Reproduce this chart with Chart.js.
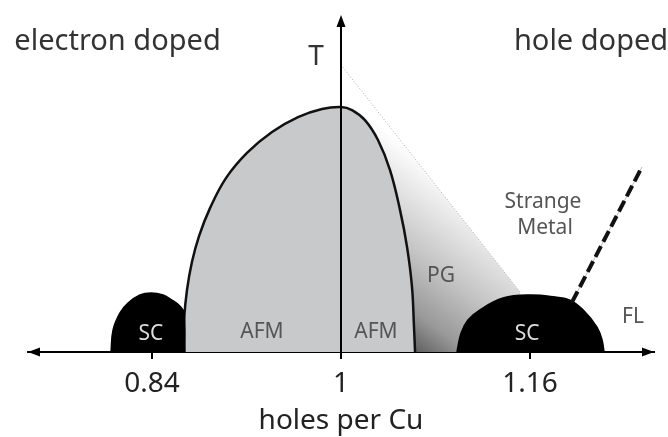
<!DOCTYPE html>
<html>
<head>
<meta charset="utf-8">
<script src="https://cdn.jsdelivr.net/npm/chart.js@4.4.1/dist/chart.umd.min.js"></script>
<style>
  html, body { margin: 0; padding: 0; background: #fff; }
  #wrap { width: 668px; height: 437px; }
</style>
</head>
<body>
<div id="wrap"><canvas id="phase"></canvas></div>
<script>
// doping axis (holes per Cu) and schematic temperature
var tickValues = [0.84, 1, 1.16];
var tickLabels = ["0.84", "1", "1.16"];

var afmX = [0.8662, 0.8671, 0.8696, 0.8738, 0.8798, 0.8891, 0.9026, 0.9204, 0.9416, 0.9636, 0.9839, 1.0,
            1.0093, 1.0203, 1.0313, 1.0415, 1.0500, 1.0559, 1.0601, 1.0618, 1.0627];
var afmT = [0, 9.5, 18.4, 26.7, 34.4, 42.7, 51.6, 59.1, 65.3, 69.7, 72.1, 72.7,
            71.8, 68.8, 62.9, 54.0, 42.1, 31.2, 19.3, 7.4, 0];

var scElecX = [0.8053, 0.8070, 0.8129, 0.8197, 0.8298, 0.8391, 0.8493, 0.8569, 0.8637, 0.8671, 0.8679];
var scElecT = [0, 6.5, 11.6, 14.5, 16.9, 17.5, 16.9, 15.4, 13.6, 11.6, 0];

var scHoleX = [1.0982, 1.1016, 1.1075, 1.1177, 1.1372, 1.1600, 1.1812, 1.1939, 1.2049, 1.2167, 1.2210, 1.2227];
var scHoleT = [0, 5.6, 9.5, 12.5, 16.0, 16.9, 16.3, 15.4, 12.5, 7.4, 3.6, 0];

// pseudogap crossover T*
var pgX = [1.0, 1.1516];
var pgT = [85.2, 17.8];

// strange metal / fermi liquid crossover
var flX = [1.1956, 1.2548];
var flT = [14.8, 54.9];

var regionLabels = [
    {text: "electron doped", x: 0.8108, y: 89.6, size: 29, color: "#333"},
    {text: "hole doped", x: 1.2117, y: 89.6, size: 29, color: "#333"},
    {text: "T", x: 0.9788, y: 85.2, size: 28, color: "#333"},
    {text: "Strange", x: 1.1710, y: 42.7, size: 21, color: "#555"},
    {text: "Metal", x: 1.1727, y: 35.0, size: 21, color: "#555"},
    {text: "PG", x: 1.0847, y: 20.8, size: 21, color: "#555"},
    {text: "FL", x: 1.2472, y: 8.6, size: 21, color: "#555"},
    {text: "SC", x: 0.8391, y: 3.6, size: 21, color: "#ddd"},
    {text: "SC", x: 1.1575, y: 3.6, size: 21, color: "#ddd"},
    {text: "AFM", x: 0.9331, y: 4.2, size: 21, color: "#555"},
    {text: "AFM", x: 1.0296, y: 4.2, size: 21, color: "#555"}
];

function pts(xs, ys) {
    return xs.map(function (x, i) { return {x: x, y: ys[i]}; });
}

var FONT = "'Noto Sans', 'DejaVu Sans', sans-serif";

// gradient for the pseudogap wedge: dark at the foot of the AFM dome, fading up-right
function pgFill(context) {
    var chart = context.chart;
    if (!chart.chartArea) return "#ccc";
    var sx = chart.scales.x, sy = chart.scales.y;
    var x0 = sx.getPixelForValue(1.0627), y0 = sy.getPixelForValue(0);
    var g = chart.ctx.createLinearGradient(x0, y0, x0 + 96, y0 - 128);
    g.addColorStop(0, "#606060");
    g.addColorStop(0.2, "#999999");
    g.addColorStop(0.5, "#c4c4c4");
    g.addColorStop(0.75, "#e2e2e2");
    g.addColorStop(1, "#ffffff");
    return g;
}

var decor = {
    id: "decor",
    afterDraw: function (chart) {
        var c = chart.ctx, a = chart.chartArea;
        var sx = chart.scales.x, sy = chart.scales.y;
        c.save();
        c.fillStyle = "#000";
        // arrow heads on the axes
        var by = a.bottom;
        c.beginPath();
        c.moveTo(a.left, by); c.lineTo(a.left + 12, by - 4.5); c.lineTo(a.left + 12, by + 4.5);
        c.closePath(); c.fill();
        c.beginPath();
        c.moveTo(a.right, by); c.lineTo(a.right - 12, by - 4.5); c.lineTo(a.right - 12, by + 4.5);
        c.closePath(); c.fill();
        var vx = sx.getPixelForValue(1);
        c.beginPath();
        c.moveTo(vx, a.top); c.lineTo(vx - 4.5, a.top + 12); c.lineTo(vx + 4.5, a.top + 12);
        c.closePath(); c.fill();
        // text
        c.textAlign = "center";
        c.textBaseline = "alphabetic";
        regionLabels.forEach(function (l) {
            c.font = l.size + "px " + FONT;
            c.fillStyle = l.color;
            c.fillText(l.text, sx.getPixelForValue(l.x), sy.getPixelForValue(l.y));
        });
        c.restore();
    }
};

var ctx = document.getElementById("phase").getContext("2d");
var chart = new Chart(ctx, {
    type: "scatter",
    data: {
        datasets: [
            {
                label: "T axis",
                data: pts([1, 1], [0, 98]),
                showLine: true,
                borderColor: "#000",
                borderWidth: 2,
                pointRadius: 0,
                order: 1
            },
            {
                label: "FL crossover",
                data: pts(flX, flT),
                showLine: true,
                borderColor: "#111",
                borderWidth: 4,
                borderDash: [12, 5],
                pointRadius: 0,
                order: 2
            },
            {
                label: "FL crossover base",
                data: pts(flX, flT),
                showLine: true,
                borderColor: "#bbb",
                borderWidth: 1,
                pointRadius: 0,
                order: 3
            },
            {
                label: "SC hole",
                data: pts(scHoleX, scHoleT),
                showLine: true,
                borderColor: "#000",
                borderWidth: 1.5,
                backgroundColor: "#000",
                fill: "origin",
                tension: 0.4,
                pointRadius: 0,
                order: 4
            },
            {
                label: "SC electron",
                data: pts(scElecX, scElecT),
                showLine: true,
                borderColor: "#000",
                borderWidth: 1.5,
                backgroundColor: "#000",
                fill: "origin",
                tension: 0.4,
                pointRadius: 0,
                order: 5
            },
            {
                label: "AFM",
                data: pts(afmX, afmT),
                showLine: true,
                borderColor: "#111",
                borderWidth: 2.5,
                backgroundColor: "#c8c9cb",
                fill: "origin",
                tension: 0.4,
                pointRadius: 0,
                order: 6
            },
            {
                label: "PG",
                data: pts(pgX, pgT),
                showLine: true,
                borderColor: "#aaa",
                borderWidth: 1,
                borderDash: [1, 2],
                backgroundColor: pgFill,
                fill: "origin",
                pointRadius: 0,
                order: 7
            }
        ]
    },
    options: {
        responsive: true,
        maintainAspectRatio: false,
        animation: false,
        layout: {padding: {left: 28, right: 14, top: 15, bottom: 0}},
        plugins: {legend: {display: false}, tooltip: {enabled: false}},
        scales: {
            x: {
                type: "linear",
                min: 0.735,
                max: 1.265,
                afterBuildTicks: function (axis) {
                    axis.ticks = tickValues.map(function (v) { return {value: v}; });
                },
                afterFit: function (axis) { axis.height = 85; },
                border: {display: true, color: "#000", width: 2},
                grid: {drawOnChartArea: false, drawTicks: true, tickLength: 7, color: "#000", lineWidth: 2},
                ticks: {
                    padding: 8,
                    color: "#222",
                    font: {family: FONT, size: 28},
                    maxRotation: 0,
                    autoSkip: false,
                    callback: function (value, index) { return tickLabels[index]; }
                },
                title: {
                    display: true,
                    text: "holes per Cu",
                    color: "#222",
                    font: {family: FONT, size: 28, lineHeight: 1},
                    padding: {top: 0, bottom: 2}
                }
            },
            y: {
                type: "linear",
                min: 0,
                max: 100,
                display: false
            }
        }
    },
    plugins: [decor]
});
</script>
</body>
</html>
